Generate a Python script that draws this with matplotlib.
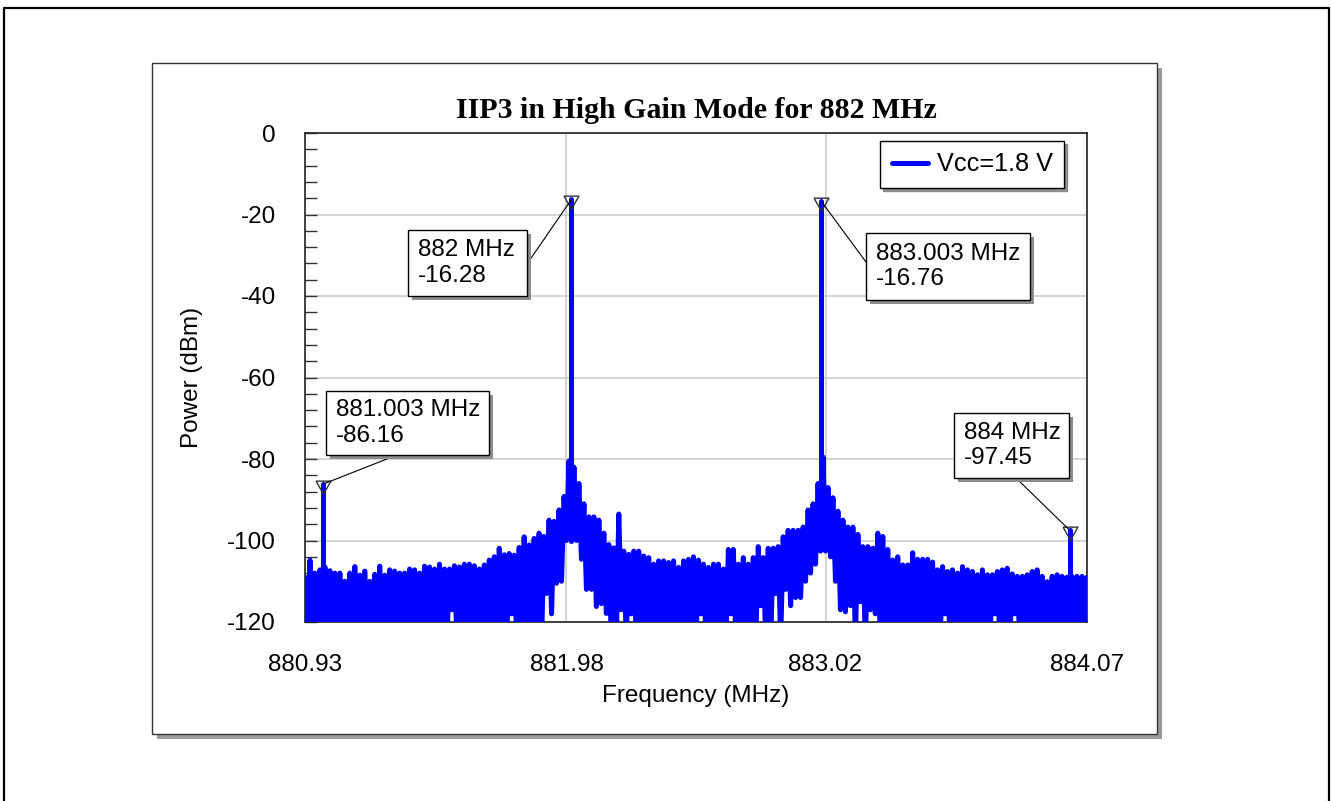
#!/usr/bin/env python3

import numpy as np
import matplotlib
matplotlib.use('Agg')
import matplotlib.pyplot as plt
import matplotlib.patheffects as pe
from matplotlib.patches import Rectangle
from matplotlib.lines import Line2D
from matplotlib.ticker import MultipleLocator, FixedLocator, FormatStrFormatter

plt.rcParams['font.family'] = ['Liberation Sans', 'DejaVu Sans']
plt.rcParams['axes.unicode_minus'] = False


#------------------------------------------------------------------------------
# Two-tone sweep, Vcc = 1.8 V, 20 kHz bins from 880.93 MHz
#------------------------------------------------------------------------------

F_START = 880.93
F_STOP = 884.07
BIN_MHZ = 0.02
TRACE_FLOOR = -125.0   # trace dips below the bottom of the plot

# peak reading in each bin (dBm)
noise_top_dbm = [
    -109.0, -104.8, -108.0, -107.2, -106.5, -107.4, -108.0, -108.0, -110.0, -108.0,
    -106.4, -108.5, -107.5, -110.0, -108.3, -106.3, -108.5, -107.2, -107.5, -108.0,
    -108.0, -107.0, -107.2, -108.0, -106.3, -106.5, -107.0, -105.8, -107.0, -107.0,
    -106.2, -106.5, -105.8, -105.8, -106.2, -107.0, -106.0, -104.8, -104.0, -101.9,
    -103.5, -103.2, -103.6, -101.7, -99.1, -101.1, -99.5, -98.2, -99.0, -95.0,
    -95.3, -92.5, -89.2, -80.5, -82.0, -86.0, -91.0, -94.2, -94.2, -95.0,
    -98.2, -101.0, -101.8, -93.5, -102.6, -103.4, -102.6, -102.6, -103.8, -104.2,
    -105.8, -105.0, -105.0, -105.4, -105.0, -106.6, -105.0, -104.6, -104.0, -104.8,
    -105.8, -106.6, -105.8, -105.8, -107.0, -102.2, -102.2, -105.8, -104.2, -105.8,
    -104.2, -101.5, -104.2, -101.9, -101.9, -101.5, -99.1, -97.5, -97.5, -97.5,
    -96.7, -92.5, -91.0, -86.0, -79.5, -87.0, -89.5, -92.8, -95.0, -96.7,
    -96.7, -98.5, -101.5, -101.5, -101.9, -98.2, -99.0, -102.2, -104.8, -104.0,
    -106.0, -106.0, -103.0, -104.6, -104.6, -104.6, -105.3, -107.2, -106.4, -107.6,
    -107.2, -108.0, -106.4, -107.2, -107.6, -108.4, -107.2, -108.4, -108.4, -107.6,
    -107.2, -106.8, -108.2, -108.8, -108.8, -108.4, -107.6, -107.2, -108.8, -110.1,
    -108.8, -108.4, -108.8, -109.0, -108.8, -108.8, -108.8, -109.0,
]

# troughs of the trace that stay above the bottom of the plot
dip_mhz = [
    881.52, 881.76, 881.90, 881.92, 881.94, 881.96, 881.98, 882.00, 882.02, 882.04,
    882.06, 882.08, 882.10, 882.12, 882.14, 882.20, 882.24, 882.52, 882.64, 882.76,
    882.82, 882.86, 882.88, 882.90, 882.92, 882.94, 882.96, 882.98, 883.00, 883.02,
    883.04, 883.06, 883.08, 883.10, 883.12, 883.16, 883.20, 883.22, 883.50, 883.70,
    883.78,
]
dip_dbm = [
    -117.0, -118.0, -113.0, -118.0, -110.5, -110.0, -100.0, -98.0, -100.0, -104.6,
    -112.0, -112.0, -116.2, -115.5, -117.9, -117.0, -118.0, -118.0, -118.0, -116.0,
    -113.0, -112.0, -116.0, -114.0, -114.0, -110.0, -108.0, -105.8, -102.6, -102.6,
    -104.0, -110.0, -117.0, -117.5, -116.0, -115.0, -117.0, -118.0, -118.0, -118.0,
    -118.0,
]

# fundamentals and third-order products
tone_mhz = [881.003, 882.0, 883.003, 884.0]
tone_dbm = [-86.16, -16.28, -16.76, -97.45]
tone_base_dbm = [-112.0, -100.0, -102.0, -112.0]
tone_labels = ['881.003 MHz\n-86.16', '882 MHz\n-16.28',
               '883.003 MHz\n-16.76', '884 MHz\n-97.45']

x_ticks = [880.93, 881.98, 883.02, 884.07]

BLUE = '#0000ff'
FS = 17.5


def build_trace():
    bins = F_START + BIN_MHZ * np.arange(len(noise_top_dbm))
    mids = bins[:-1] + BIN_MHZ / 2
    low = np.full(len(mids), TRACE_FLOOR)
    for f, v in zip(dip_mhz, dip_dbm):
        low[np.argmin(np.abs(mids - f))] = v

    x = np.empty(2 * len(bins) - 1)
    y = np.empty(2 * len(bins) - 1)
    x[0::2], y[0::2] = bins, noise_top_dbm
    x[1::2], y[1::2] = mids, low
    return x, y


def marker_box(ax, box, text, start, xy):
    # box = (x0, y0, w, h) in axes fraction, start = leader origin
    x0, y0, w, h = box
    rect = Rectangle((x0, y0), w, h, transform=ax.transAxes, fc='white',
                     ec='black', lw=1.0, zorder=6)
    rect.set_path_effects([pe.SimplePatchShadow(offset=(3.2, -3.2), shadow_rgbFace='#8c8c8c', alpha=1.0),
                           pe.Normal()])
    ax.add_patch(rect)
    ax.text(x0 + 0.0125, y0 + h / 2, text, transform=ax.transAxes, ha='left', va='center',
            fontsize=FS, linespacing=1.22, zorder=7)
    ax.annotate('', xy=xy, xycoords='data', xytext=start, textcoords='axes fraction',
                arrowprops=dict(arrowstyle='-', color='black', lw=0.8, shrinkA=0, shrinkB=0),
                zorder=5)


def main():
    fig = plt.figure(figsize=(13.31, 8.01), dpi=100)

    # outer frame and the shadowed chart panel
    W, H = 1331.0, 801.0
    fig.add_artist(Line2D([4 / W, 4 / W, 1329 / W, 1329 / W], [0, 1 - 8 / H, 1 - 8 / H, 0],
                          color='black', lw=1.6, transform=fig.transFigure))
    panel = Rectangle((152 / W, 1 - 734 / H), 1005 / W, 671 / H, transform=fig.transFigure,
                      fc='white', ec='#333333', lw=1.0, zorder=-1)
    panel.set_path_effects([pe.SimplePatchShadow(offset=(3.6, -3.6), shadow_rgbFace='#999999', alpha=1.0),
                            pe.Normal()])
    fig.add_artist(panel)

    ax = fig.add_axes([305 / W, 1 - 622 / H, 782 / W, 489 / H])
    ax.set_axisbelow(True)

    x, y = build_trace()
    ax.plot(x, y, color=BLUE, lw=3.6, solid_joinstyle='round', solid_capstyle='round',
            label='Vcc=1.8 V', zorder=3)
    ax.vlines(tone_mhz, tone_base_dbm, tone_dbm, color=BLUE, lw=3.6, capstyle='round', zorder=3)

    tri = [(-1.0, 0.45), (1.0, 0.45), (0.0, -1.3), (-1.0, 0.45)]
    ax.plot(tone_mhz, tone_dbm, ls='none', marker=tri, ms=14, mfc='none', mec='#333333',
            mew=1.0, zorder=4)

    boxes = [(0.0269, 0.3415, 0.2084, 0.1309),
             (0.1317, 0.6667, 0.1522, 0.1350),
             (0.7174, 0.6585, 0.2097, 0.1370),
             (0.8299, 0.2945, 0.1471, 0.1329)]
    starts = [(0.1176, 0.3415), (0.2839, 0.7321), (0.7174, 0.7362), (0.9092, 0.2945)]
    for box, label, start, f, p in zip(boxes, tone_labels, starts, tone_mhz, tone_dbm):
        marker_box(ax, box, label, start, (f, p))

    ax.set_xlim(F_START, F_STOP)
    ax.set_ylim(-120, 0)
    ax.xaxis.set_major_locator(FixedLocator(x_ticks))
    ax.xaxis.set_major_formatter(FormatStrFormatter('%.2f'))
    ax.yaxis.set_major_locator(MultipleLocator(20))
    ax.yaxis.set_minor_locator(MultipleLocator(4))
    ax.tick_params(axis='x', length=0, pad=23, labelsize=FS)
    ax.tick_params(axis='y', which='both', direction='in', length=8.5, width=1.0,
                   color='#333333', pad=21, labelsize=FS)
    ax.grid(True, which='major', color='#c8c8c8', lw=1.1)
    for s in ax.spines.values():
        s.set_color('#222222')
        s.set_linewidth(1.2)

    ax.set_title('IIP3 in High Gain Mode for 882 MHz', family='Liberation Serif',
                 fontweight='bold', fontsize=21.5, pad=10.5)
    ax.set_xlabel('Frequency (MHz)', fontsize=FS)
    ax.set_ylabel('Power (dBm)', fontsize=FS)
    ax.xaxis.set_label_coords(0.5, -0.128)
    ax.yaxis.set_label_coords(-0.131, 0.5)

    leg = ax.legend(loc='upper right', bbox_to_anchor=(0.9706, 0.9836), borderaxespad=0,
                    fontsize=18.2, handlelength=1.45, handletextpad=0.33, borderpad=0.45,
                    fancybox=False, framealpha=1.0, edgecolor='black',
                    shadow={'color': '#8c8c8c', 'alpha': 1.0})
    leg.get_frame().set_linewidth(1.0)
    leg.set_zorder(8)

    plt.savefig('out.png', dpi=100)
    plt.close()


if __name__ == '__main__':
    main()
